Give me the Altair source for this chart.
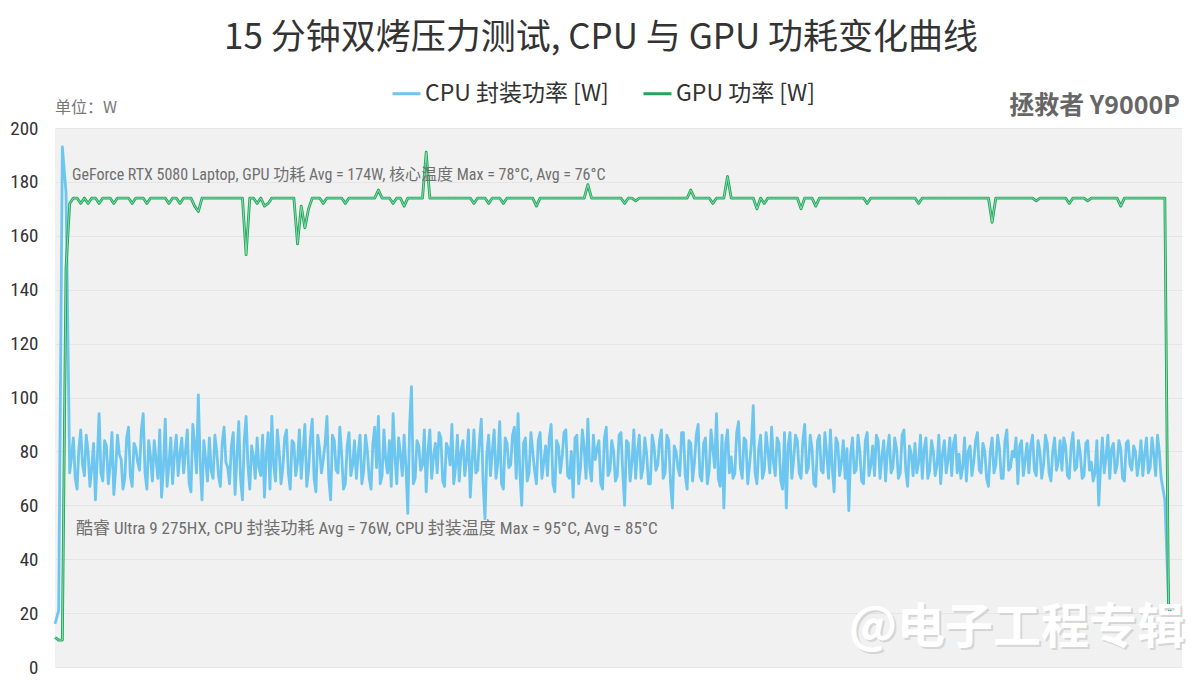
import altair as alt
import pandas as pd

# ---- data ----
# CPU package power, one sample every 3 s
cpu_w = [
    16, 21, 193, 176,
    72, 85, 66, 88, 71, 80, 74, 62, 94, 69,
    82, 75, 64, 86, 77, 70, 89, 67, 81, 73,
    94, 66, 78, 84, 70, 63, 92, 75, 68, 86,
    79, 72, 88, 65, 83, 101, 62, 77, 85, 70,
    80, 67, 89, 74, 82, 64, 91, 62, 93, 66,
    78, 85, 71, 63, 87, 93, 69, 80, 74, 88,
    66, 83, 76, 70, 90, 73, 92, 65, 81, 77,
    93, 62, 84, 72, 79, 68, 87, 75, 70, 86,
    73, 80, 66, 89, 93, 71, 77, 84, 94, 68,
    79, 86, 57, 104, 70, 82, 75, 65, 88, 78,
    72, 85, 67, 81, 90, 74, 69, 84, 77, 63,
    88, 73, 92, 55, 86, 80, 70, 91, 66, 83,
    75, 89, 94, 60, 85, 72, 80, 68, 87, 76,
    71, 90, 65, 82, 78, 88, 70, 63, 86, 74,
    81, 92, 69, 77, 84, 66, 89, 73, 80, 71,
    87, 60, 83, 76, 70, 86, 74, 79, 68, 82,
    75, 88, 72, 84, 59, 80, 71, 87, 66, 83,
    76, 90, 69, 85, 73, 81, 94, 67, 59, 88,
    78, 72, 91, 70, 84, 75, 97, 68, 86, 73,
    80, 89, 71, 83, 66, 59, 87, 77, 84, 70,
    90, 74, 81, 67, 86, 72, 79, 88, 65, 83,
    76, 70, 58, 85, 73, 80, 68, 87, 75, 71,
    84, 78, 69, 86, 74, 81, 72, 88, 67, 79,
    83, 76, 70, 85, 73, 80, 75, 68, 84, 77,
    71, 86, 79, 74, 69, 82, 76, 87, 72, 80,
    67, 85, 75, 81, 70, 88, 74, 78, 68, 84,
    77, 72, 86, 71, 80, 75, 83, 69, 85, 76,
    73, 82, 70, 87, 74, 79, 71, 84, 76, 72,
    60, 85, 78, 70, 83, 75, 81, 69, 84, 73,
    80, 76, 71, 85, 74, 79, 86, 70,
    62, 24, 18, 17, 17,
]

# CPU package power, the in-between samples (1.5 s after samples 4 .. 300)
cpu_w_mid = [
    78, 70, 81, 75, 86, 67, 83, 77, 72, 84,
    68, 87, 73, 79, 66, 85, 71, 83, 76, 88,
    72, 84, 69, 77, 88, 74, 67, 85, 79, 71,
    85, 80, 68, 90, 72, 76, 84, 69, 73, 86,
    71, 83, 76, 68, 87, 78, 70, 84, 75, 82,
    70, 74, 86, 79, 66, 75, 88, 68, 85, 72,
    84, 71, 88, 80, 67, 85, 70, 86, 72, 83,
    70, 86, 73, 89, 66, 82, 71, 84, 79, 68,
    86, 70, 83, 74, 68, 88, 72, 67, 78, 85,
    71, 74, 90, 68, 84, 73, 88, 80, 70, 83,
    87, 69, 83, 75, 68, 86, 80, 71, 88, 76,
    72, 84, 68, 79, 71, 88, 76, 68, 85, 74,
    86, 70, 72, 83, 69, 87, 73, 84, 70, 82,
    85, 68, 84, 72, 87, 71, 80, 85, 68, 88,
    70, 74, 86, 81, 68, 85, 71, 84, 69, 86,
    72, 84, 69, 88, 80, 70, 85, 68, 86, 73,
    84, 70, 86, 68, 82, 74, 87, 71, 84, 69,
    86, 71, 83, 68, 88, 74, 70, 86, 83, 72,
    70, 87, 74, 85, 68, 83, 72, 81, 70, 87,
    72, 76, 85, 69, 87, 82, 70, 86, 72, 84,
    72, 86, 68, 84, 73, 87, 70, 74, 85, 71,
    84, 81, 79, 72, 86, 69, 84, 71, 82, 86,
    70, 84, 80, 72, 85, 70, 86, 73, 82, 71,
    72, 86, 81, 70, 84, 71, 86, 79, 72, 85,
    83, 72, 70, 85, 80, 71, 84, 73, 83, 70,
    80, 72, 86, 70, 84, 73, 80, 85, 82, 71,
    83, 82, 73, 84, 70, 86, 72, 80, 73, 84,
    85, 71, 82, 73, 84, 70, 83, 73, 69, 84,
    74, 72, 86, 81, 72, 84, 70, 83, 75, 82,
    71, 84, 79, 72, 85, 71, 80,
]

# GPU power, one sample every 3 s
gpu_w = [
    11, 10, 10, 148, 172, 174, 174, 172, 174, 172,
    174, 174, 172, 174, 174, 174, 172, 174, 174, 174,
    174, 172, 174, 174, 174, 172, 174, 174, 174, 174,
    174, 172, 174, 174, 172, 174, 174, 174, 171, 169,
    174, 174, 174, 174, 174, 174, 174, 174, 174, 174,
    174, 174, 153, 174, 174, 172, 174, 171, 172, 174,
    174, 174, 174, 174, 174, 174, 157, 171, 163, 170,
    174, 174, 174, 172, 174, 174, 174, 174, 174, 172,
    174, 174, 174, 174, 174, 174, 174, 174, 177, 174,
    174, 174, 172, 174, 174, 171, 174, 174, 174, 174,
    174, 191, 174, 174, 174, 174, 174, 174, 174, 174,
    174, 174, 174, 174, 172, 174, 174, 174, 172, 174,
    174, 174, 172, 174, 174, 174, 174, 174, 174, 174,
    174, 171, 174, 174, 174, 174, 174, 174, 174, 174,
    174, 174, 174, 174, 174, 179, 174, 174, 174, 174,
    174, 174, 174, 174, 174, 172, 174, 174, 173, 174,
    174, 174, 174, 174, 174, 174, 174, 174, 174, 174,
    174, 174, 174, 177, 174, 174, 174, 174, 174, 172,
    174, 174, 174, 182, 174, 174, 174, 174, 174, 174,
    174, 170, 174, 172, 174, 174, 174, 174, 174, 174,
    174, 174, 174, 170, 174, 174, 174, 171, 174, 174,
    174, 174, 174, 174, 174, 174, 174, 174, 174, 174,
    174, 172, 174, 174, 174, 174, 174, 174, 174, 174,
    174, 174, 174, 174, 174, 172, 174, 174, 174, 174,
    174, 174, 174, 174, 174, 174, 174, 174, 174, 174,
    174, 174, 174, 174, 174, 165, 174, 174, 174, 174,
    174, 174, 174, 174, 174, 174, 174, 173, 174, 174,
    174, 174, 174, 174, 174, 174, 172, 174, 174, 174,
    174, 173, 174, 174, 174, 174, 174, 174, 174, 174,
    171, 174, 174, 174, 174, 174, 174, 174, 174, 174,
    174, 174, 174, 22, 18, 17, 17,
]

y_ticks = [0, 20, 40, 60, 80, 100, 120, 140, 160, 180, 200]

cpu_name = "CPU 封装功率 [W]"
gpu_name = "GPU 功率 [W]"
title_text = "15 分钟双烤压力测试, CPU 与 GPU 功耗变化曲线"
unit_text = "单位：W"
brand_text = "拯救者 Y9000P"
gpu_note = "GeForce RTX 5080 Laptop, GPU 功耗 Avg = 174W, 核心温度 Max = 78°C, Avg = 76°C"
cpu_note = "酷睿 Ultra 9 275HX, CPU 封装功耗 Avg =  76W, CPU 封装温度 Max = 95°C, Avg = 85°C"
watermark = "@电子工程专辑"

step_s = 3
n = len(cpu_w)
assert len(gpu_w) == n
mid_first = 4
assert len(cpu_w_mid) == 301 - mid_first
seconds = [i * step_s for i in range(n)]
mid_seconds = [(mid_first + k) * step_s + step_s / 2 for k in range(len(cpu_w_mid))]

df_cpu = pd.DataFrame({"t": seconds + mid_seconds, "w": cpu_w + cpu_w_mid})
df_cpu["series"] = cpu_name
df_gpu = pd.DataFrame({"t": seconds, "w": gpu_w})
df_gpu["series"] = gpu_name
df = pd.concat([df_cpu, df_gpu], ignore_index=True).sort_values(["series", "t"])

CJK = "'Noto Sans CJK SC', sans-serif"
NARROW = "'Liberation Sans Narrow', 'Roboto Condensed', 'DejaVu Sans Condensed', Roboto, 'Noto Sans CJK SC', sans-serif"

x_enc = alt.X("t:Q", scale=alt.Scale(domain=[0, 920], nice=False, zero=False), axis=None)
y_enc = alt.Y(
    "w:Q",
    scale=alt.Scale(domain=[0, 200], nice=False),
    axis=alt.Axis(
        values=y_ticks, title=None, domain=False, ticks=False, grid=True,
        gridColor="#e5e5e5", gridWidth=1, labelFontSize=19, labelColor="#333333",
        labelPadding=17, labelFont=NARROW,
    ),
)

lines = alt.Chart(df).mark_line(strokeWidth=2.8, strokeJoin="round").encode(
    x=x_enc,
    y=y_enc,
    color=alt.Color(
        "series:N",
        scale=alt.Scale(domain=[cpu_name, gpu_name], range=["#6cc6ef", "#23a65c"]),
        legend=alt.Legend(
            orient="none", legendX=336, legendY=-50, direction="horizontal",
            title=None, labelFontSize=23, labelColor="#333333", labelFont=CJK,
            labelLimit=0, symbolType="stroke", symbolSize=784, symbolStrokeWidth=3,
            columnPadding=28, labelOffset=3,
        ),
    ),
)

gpu_inner = alt.Chart(df_gpu).mark_line(strokeWidth=1, color="#86dcab").encode(x=x_enc, y=y_enc)


def label(text, x, y, size, color, font, align="left", weight="normal", baseline="middle"):
    return alt.Chart(pd.DataFrame({"s": [text]})).mark_text(
        align=align, baseline=baseline, fontSize=size, color=color, font=font, fontWeight=weight
    ).encode(x=alt.value(x), y=alt.value(y), text="s:N")


texts = [
    label(title_text, 546, -90, 35, "#333333", CJK, align="center"),
    label(unit_text, 0, -20, 16, "#777777", CJK),
    label(brand_text, 1125, -22, 25, "#666666", CJK, align="right", weight="bold"),
    label(gpu_note, 17, 47, 16, "#6f6f6f", NARROW),
    label(cpu_note, 21, 401, 17, "#6f6f6f", NARROW),
    label(watermark, 1132, 503, 48, "#d6d6d6", CJK, align="right", weight="bold"),
    label(watermark, 1130, 501, 48, "#ffffff", CJK, align="right", weight="bold"),
]

chart = alt.layer(lines, gpu_inner, *texts).properties(
    width=1127,
    height=539,
    padding={"left": 47, "top": 120, "right": 10, "bottom": 13},
    autosize=alt.AutoSizeParams(type="none"),
    background="#ffffff",
).configure_view(stroke=None, fill="#f1f1f1")

chart.save("out.html", embed_options={"renderer": "svg", "actions": False})
